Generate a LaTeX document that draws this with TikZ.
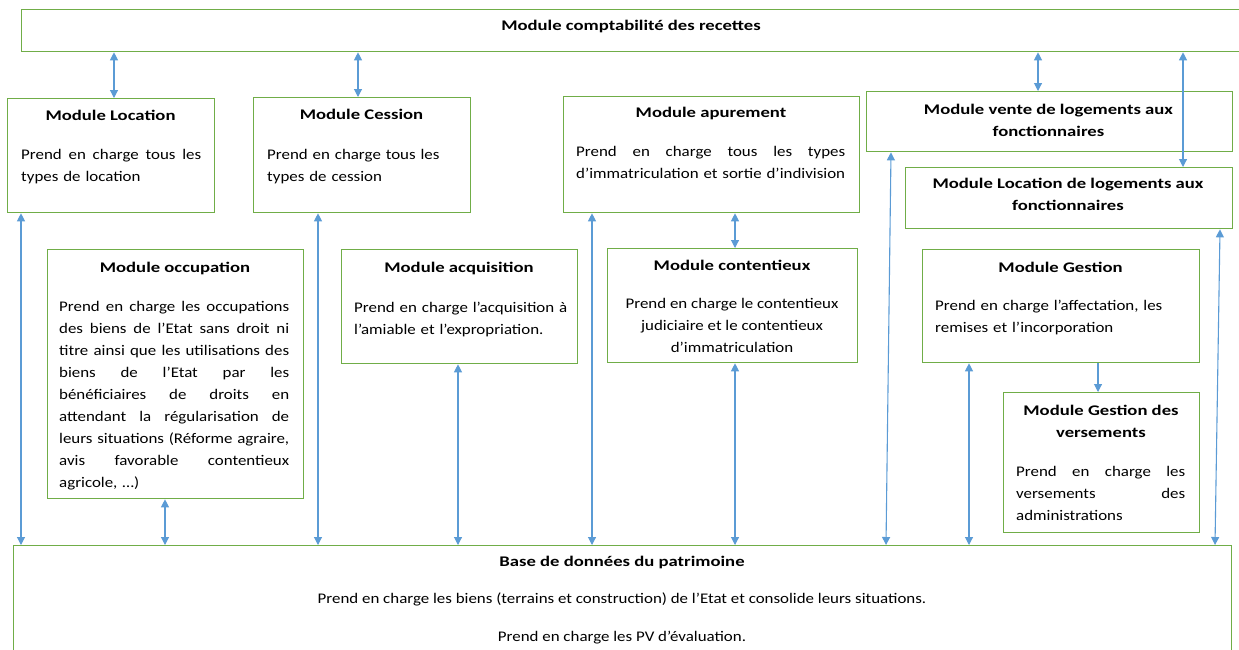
\documentclass[tikz,border=0pt]{standalone}
\usepackage{fontspec}
\setmainfont{Carlito}[FakeStretch=1.15, BoldFeatures={FakeStretch=1.27}]
\usetikzlibrary{arrows.meta}
\definecolor{boxgreen}{HTML}{70AD47}
\definecolor{arrblue}{HTML}{5B9BD5}
\newcommand\bodyfont{\fontsize{14.7}{22}\selectfont}
\newcommand\JL[2]{\noindent\hbox to #1{\spaceskip=0pt\xspaceskip=0pt\strut #2}}
\tikzset{
  box/.style={draw=boxgreen, line width=1.3pt, inner sep=0pt, anchor=north west},
  ttl/.style={font=\bodyfont\bfseries, inner sep=0pt, anchor=base},
  ttlm/.style={font=\bodyfont\bfseries, inner sep=0pt, anchor=north, align=center},
  body/.style={font=\bodyfont, inner sep=0pt, anchor=north west, align=left},
  bodyc/.style={font=\bodyfont, inner sep=0pt, anchor=north, align=center},
  tipb/.tip={Triangle[length=8pt,width=8pt]},
  biarr/.style={tipb-tipb, draw=arrblue, line width=1.1pt},
  onearr/.style={-tipb, draw=arrblue, line width=1.1pt},
}
\begin{document}
\begin{tikzpicture}[x=1pt,y=-1pt]
\useasboundingbox (0,0) rectangle (1239,649);
% boxes
\node[box, minimum width=1220pt, minimum height=42pt] (top) at (21,9) {};
\node[box, minimum width=207pt, minimum height=114pt] (loc) at (7,98) {};
\node[box, minimum width=217pt, minimum height=115pt] (ces) at (253,97) {};
\node[box, minimum width=296pt, minimum height=116pt] (apu) at (563,96) {};
\node[box, minimum width=366pt, minimum height=60pt] (ven) at (866,91) {};
\node[box, minimum width=327pt, minimum height=61pt] (llog) at (905,167) {};
\node[box, minimum width=256pt, minimum height=249pt] (occ) at (47,249) {};
\node[box, minimum width=236pt, minimum height=114pt] (acq) at (341,249) {};
\node[box, minimum width=250pt, minimum height=114pt] (cont) at (607,248) {};
\node[box, minimum width=277pt, minimum height=113pt] (ges) at (922,249) {};
\node[box, minimum width=196pt, minimum height=140pt] (ver) at (1003,392) {};
\node[box, minimum width=1218pt, minimum height=130pt] (base) at (13,545) {};
% texts
\node[ttl] (ttop) at (631,30) {Module comptabilité des recettes};
\node[ttl] (tloc) at (110.5,120) {Module Location};
\node[body, text width=180pt] (bloc) at (21,143.7) {\JL{180pt}{Prend en charge tous les}\\types de location};
\node[ttl] (tces) at (361.5,119) {Module Cession};
\node[body, text width=190pt] (bces) at (267,143.7) {\strut Prend en charge tous les\\types de cession};
\node[ttl] (tapu) at (711,117) {Module apurement};
\node[body, text width=269pt] (bapu) at (576,140.7) {\JL{269pt}{Prend en charge tous les types}\\d’immatriculation et sortie d’indivision};
\node[ttlm] (tven) at (1048.5,98.7) {\strut Module vente de logements aux\\fonctionnaires};
\node[ttlm] (tllog) at (1068,172.7) {\strut Module Location de logements aux\\fonctionnaires};
\node[ttl] (tocc) at (175,272) {Module occupation};
\node[body, text width=230pt] (bocc) at (59,295.7) {\JL{230pt}{Prend en charge les occupations}\\
\JL{230pt}{des biens de l’Etat sans droit ni}\\
\JL{230pt}{titre ainsi que les utilisations des}\\
\JL{230pt}{biens de l’Etat par les}\\
\JL{230pt}{bénéficiaires de droits en}\\
\JL{230pt}{attendant la régularisation de}\\
\JL{230pt}{leurs situations (Réforme agraire,}\\
\JL{230pt}{avis favorable contentieux}\\
agricole, …)};
\node[ttl] (tacq) at (459,272) {Module acquisition};
\node[body, text width=215pt] (bacq) at (354,296.7) {\strut Prend en charge l’acquisition à\\l’amiable et l’expropriation.};
\node[ttl] (tcont) at (732,270) {Module contentieux};
\node[bodyc] (bcont) at (732,292.7) {\strut Prend en charge le contentieux\\judiciaire et le contentieux\\d’immatriculation};
\node[ttl] (tges) at (1060.5,272) {Module Gestion};
\node[body, text width=250pt] (bges) at (935,294.7) {\strut Prend en charge l’affectation, les\\remises et l’incorporation};
\node[ttlm] (tver) at (1101,399.7) {\strut Module Gestion des\\versements};
\node[body, text width=169pt] (bver) at (1016,460.7) {\JL{169pt}{Prend en charge les}\\\JL{169pt}{versements des}\\administrations};
\node[ttl] (tbase) at (622,566) {Base de données du patrimoine};
\node[ttl, font=\bodyfont] (bbase1) at (622,603) {Prend en charge les biens (terrains et construction) de l’Etat et consolide leurs situations.};
\node[ttl, font=\bodyfont] (bbase2) at (622,641) {Prend en charge les PV d’évaluation.};
% arrow x positions
\coordinate (x1) at (114,0);
\coordinate (x2) at (358,0);
\coordinate (x3) at (1038,0);
\coordinate (x4) at (1183,0);
\coordinate (x5) at (21,0);
\coordinate (x6) at (318,0);
\coordinate (x7) at (165,0);
\coordinate (x8) at (458,0);
\coordinate (x9) at (592,0);
\coordinate (x10) at (735,0);
\coordinate (x12a) at (891,0);
\coordinate (x12b) at (886,0);
\coordinate (x13) at (969,0);
\coordinate (x14) at (1098,0);
\coordinate (x15a) at (1220,0);
\coordinate (x15b) at (1215,0);
% connectors
\draw[biarr] (top.south -| x1) -- (loc.north -| x1);
\draw[biarr] (top.south -| x2) -- (ces.north -| x2);
\draw[biarr] (top.south -| x3) -- (ven.north -| x3);
\draw[biarr] (top.south -| x4) -- (llog.north -| x4);
\draw[biarr] (loc.south -| x5) -- (base.north -| x5);
\draw[biarr] (ces.south -| x6) -- (base.north -| x6);
\draw[biarr] (occ.south -| x7) -- (base.north -| x7);
\draw[biarr] (acq.south -| x8) -- (base.north -| x8);
\draw[biarr] (apu.south -| x9) -- (base.north -| x9);
\draw[biarr] (apu.south -| x10) -- (cont.north -| x10);
\draw[biarr] (cont.south -| x10) -- (base.north -| x10);
\draw[biarr] (ven.south -| x12a) -- (base.north -| x12b);
\draw[biarr] (ges.south -| x13) -- (base.north -| x13);
\draw[onearr] (ges.south -| x14) -- (ver.north -| x14);
\draw[biarr] (llog.south -| x15a) -- (base.north -| x15b);
\end{tikzpicture}
\end{document}
